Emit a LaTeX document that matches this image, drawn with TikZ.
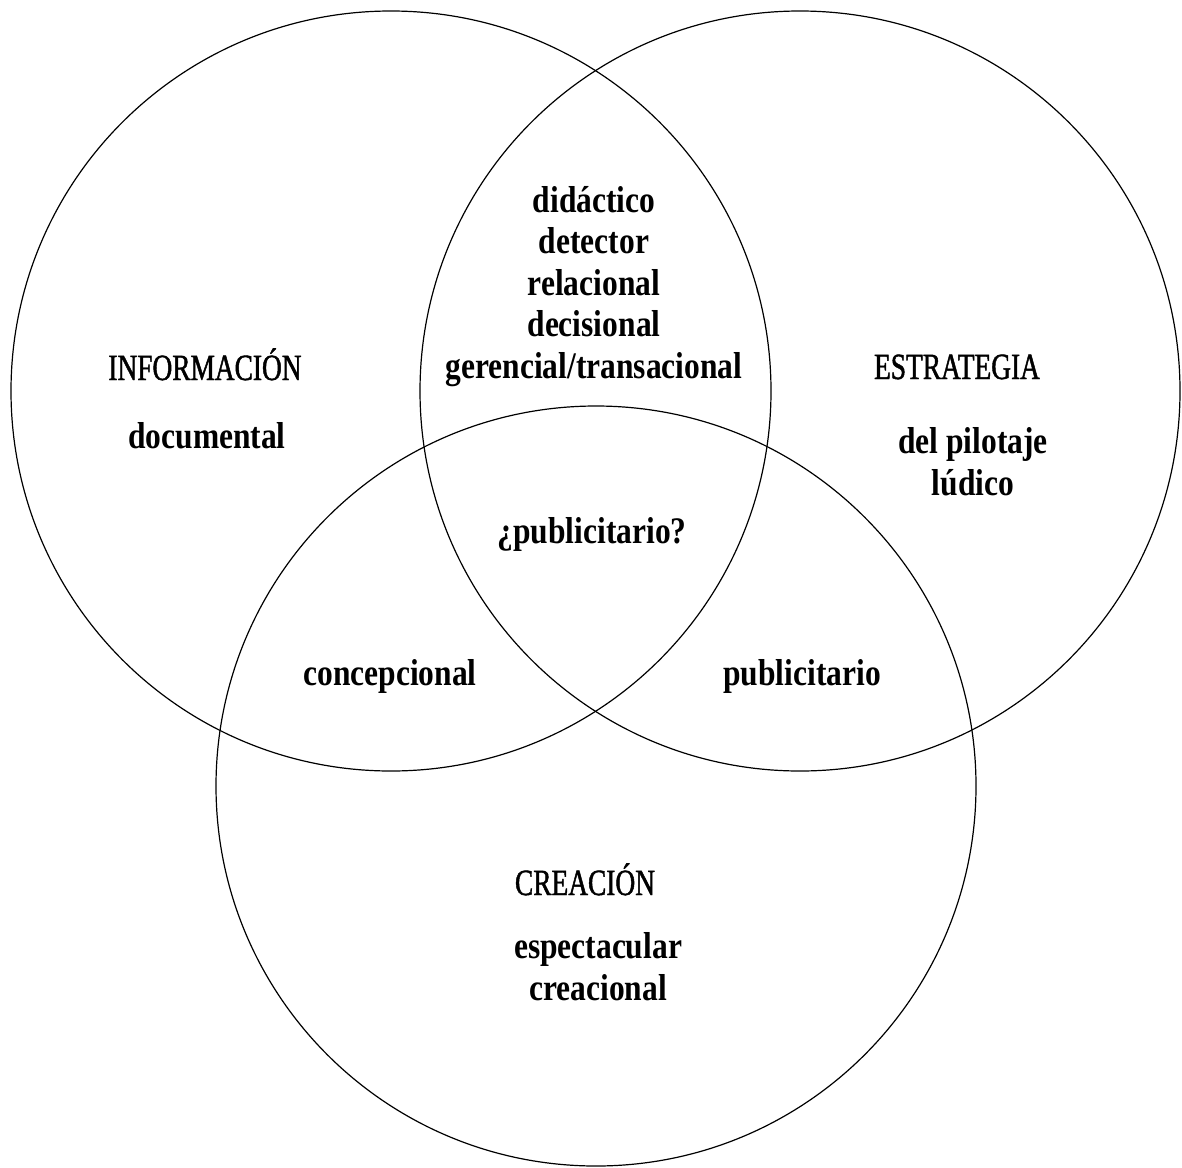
\documentclass[tikz,border=0pt]{standalone}
\usepackage{fontspec}
\usetikzlibrary{positioning}
\newfontfamily\wordfont{Liberation Serif}[FakeStretch=0.84]
\newfontfamily\headfont{Liberation Serif}[FakeStretch=0.74,FakeBold=1.2]
\definecolor{ink}{HTML}{000000}

\begin{document}
\begin{tikzpicture}[x=1pt,y=-1pt,
    ring/.style={circle,draw=ink,line width=1.2pt,minimum size=760pt,inner sep=0pt,outer sep=0pt},
    head/.style={anchor=base,inner sep=0pt,text=ink,font=\headfont\fontsize{37}{41.5}\selectfont},
    word/.style={anchor=base,inner sep=0pt,text=ink,align=center,font=\wordfont\bfseries\fontsize{37.5}{41.5}\selectfont}]
    \useasboundingbox (0,0) rectangle (1182,1167);
    \node[ring] (info) at (391,391) {};
    \node[ring] (estr) at (800,391) {};
    \node[ring] (crea) at (596,786) {};
    % etiquetas de cada conjunto
    \node[head] (tinfo) at (205,380) {INFORMACIÓN};
    \node[word] (docu) at (207,448) {documental};
    \node[head] (testr) at (957,379) {ESTRATEGIA};
    \node[word] (pilo) at (973,495) {del pilotaje\\lúdico};
    \node[head] (tcrea) at (585,895) {CREACIÓN};
    \node[word] (espe) at (598,1000) {espectacular\\creacional};
    % intersecciones
    \node[word] (dida) at (594,378) {didáctico\\detector\\relacional\\decisional\\gerencial/transacional};
    \node[word] (quiz) at (592,543) {¿publicitario?};
    \node[word] (conc) at (390,685) {concepcional};
    \node[word] (publ) at (802,685) {publicitario};
\end{tikzpicture}
\end{document}
